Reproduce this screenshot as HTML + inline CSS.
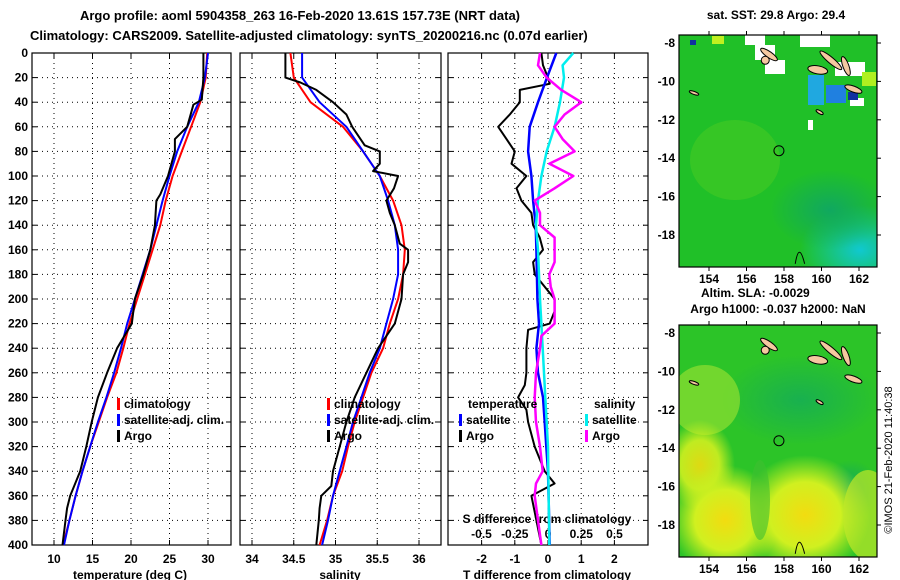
<!DOCTYPE html>
<html><head><meta charset="utf-8"><style>
body{margin:0;background:#fff;}
svg{display:block;font-family:"Liberation Sans",sans-serif;font-weight:bold;}
</style></head><body>
<svg id="c" width="900" height="580" viewBox="0 0 900 580" xmlns="http://www.w3.org/2000/svg">
<defs>
<clipPath id="m1"><rect x="679" y="35" width="198" height="232"/></clipPath>
<clipPath id="m2"><rect x="679" y="325" width="198" height="232"/></clipPath>
<radialGradient id="y1" cx="0.5" cy="0.5" r="0.5"><stop offset="0" stop-color="#f2dc10"/><stop offset="0.55" stop-color="#d0f020"/><stop offset="1" stop-color="#c8f020" stop-opacity="0"/></radialGradient>
<radialGradient id="b1" cx="0.5" cy="0.5" r="0.5"><stop offset="0" stop-color="#10c8d0"/><stop offset="1" stop-color="#10c8d0" stop-opacity="0"/></radialGradient>
<radialGradient id="g1" cx="0.5" cy="0.5" r="0.5"><stop offset="0" stop-color="#10a860"/><stop offset="1" stop-color="#10a860" stop-opacity="0"/></radialGradient>
</defs>
<text x="300" y="20" font-size="13" text-anchor="middle">Argo profile: aoml 5904358_263 16-Feb-2020 13.61S 157.73E (NRT data)</text>
<text x="30" y="40" font-size="13">Climatology: CARS2009. Satellite-adjusted climatology: synTS_20200216.nc (0.07d earlier)</text>
<g id="plots"></g>

<g>
<text x="776" y="19" font-size="12" text-anchor="middle">sat. SST: 29.8 Argo: 29.4</text>
<g clip-path="url(#m1)">
<rect x="679" y="35" width="198" height="232" fill="#20c028"/>
<ellipse cx="735" cy="160" rx="45" ry="40" fill="#60d020" opacity="0.35"/>
<ellipse cx="860" cy="250" rx="60" ry="45" fill="url(#b1)"/>
<ellipse cx="830" cy="210" rx="60" ry="40" fill="url(#g1)"/>
<rect x="745" y="35" width="20" height="10" fill="#fff"/>
<rect x="755" y="45" width="20" height="15" fill="#fff"/>
<rect x="765" y="60" width="20" height="14" fill="#fff"/>
<rect x="800" y="35" width="30" height="12" fill="#fff"/>
<rect x="835" y="62" width="30" height="14" fill="#fff"/>
<rect x="850" y="98" width="14" height="8" fill="#fff"/>
<rect x="808" y="120" width="5" height="10" fill="#fff"/>
<rect x="808" y="75" width="16" height="30" fill="#20a8e0"/>
<rect x="826" y="85" width="20" height="18" fill="#2080e0"/>
<rect x="848" y="92" width="10" height="8" fill="#1030a0"/>
<rect x="862" y="72" width="14" height="14" fill="#b0f020"/>
<rect x="690" y="40" width="6" height="5" fill="#1030a0"/>
<rect x="712" y="36" width="12" height="8" fill="#c0f020"/>
</g>
<rect x="679" y="35" width="198" height="232" fill="none" stroke="#000" stroke-width="1.2"/>
</g>
<text x="701" y="297" font-size="12">Altim. SLA: -0.0029</text>
<text x="778" y="313" font-size="12" text-anchor="middle">Argo h1000: -0.037 h2000: NaN</text>
<g>
<g clip-path="url(#m2)">
<rect x="679" y="325" width="198" height="232" fill="#2cc428"/>
<ellipse cx="800" cy="400" rx="80" ry="45" fill="url(#g1)" opacity="0.7"/>
<ellipse cx="850" cy="490" rx="30" ry="30" fill="url(#g1)"/>
<ellipse cx="705" cy="400" rx="35" ry="35" fill="#90e030" opacity="0.7"/>
<ellipse cx="700" cy="465" rx="35" ry="45" fill="url(#y1)" opacity="0.9"/>
<ellipse cx="725" cy="520" rx="55" ry="55" fill="url(#y1)"/>
<ellipse cx="805" cy="515" rx="65" ry="60" fill="url(#y1)"/>
<ellipse cx="868" cy="515" rx="25" ry="45" fill="#c0e828" opacity="0.7"/>
<ellipse cx="760" cy="500" rx="10" ry="40" fill="#40c030" opacity="0.6"/>
</g>
<rect x="679" y="325" width="198" height="232" fill="none" stroke="#000" stroke-width="1.2"/>
</g>
<text transform="translate(892,460) rotate(-90)" font-size="11" font-weight="normal" text-anchor="middle">©IMOS 21-Feb-2020 11:40:38</text>
<g id="maps"></g>
</svg>
<script>
var NS='http://www.w3.org/2000/svg';
var root=document.getElementById('plots');
var mroot=document.getElementById('maps');
function mk(tag,attrs,parent){var e=document.createElementNS(NS,tag);for(var k in attrs)e.setAttribute(k,attrs[k]);(parent||root).appendChild(e);return e;}

var depthsT=[0,20,40,60,80,100,120,140,160,180,200,220,240,260,280,300,320,340,360,380,400];
var tempClim=[29.9,29.7,29.0,27.8,26.6,25.4,24.5,23.8,22.8,21.8,20.8,19.8,19.0,18.1,16.9,15.8,14.7,13.7,12.8,12.0,11.2];
var tempSat=[30.0,29.6,28.8,27.3,26.0,25.0,24.1,23.3,22.5,21.5,20.5,19.5,18.7,17.8,16.8,15.7,14.7,13.7,12.8,12.0,11.3];
var depthsArgoT=[0,20,38,42,60,70,80,100,115,120,140,160,180,200,220,240,260,280,300,320,340,360,370,380,400];
var tempArgo=[29.4,29.4,29.2,28.1,27.3,25.7,25.7,24.8,23.8,23.3,23.1,22.5,21.6,20.5,20.1,18.2,16.9,15.7,14.9,14.2,13.4,12.1,11.7,11.5,11.1];
var salClim=[34.46,34.5,34.7,35.09,35.33,35.53,35.69,35.79,35.83,35.81,35.75,35.65,35.57,35.43,35.33,35.23,35.15,35.08,34.97,34.9,34.81];
var salSat=[34.6,34.6,34.81,35.13,35.33,35.53,35.63,35.71,35.75,35.75,35.69,35.61,35.53,35.41,35.31,35.21,35.13,35.05,34.97,34.91,34.84];
var depthsArgoS=[0,20,24,30,40,50,60,75,80,90,96,100,110,120,130,140,155,160,170,180,200,220,240,260,280,300,320,340,352,360,370,380,400];
var salArgo=[34.4,34.4,34.58,34.77,34.97,35.13,35.2,35.35,35.53,35.53,35.45,35.75,35.7,35.61,35.65,35.71,35.77,35.87,35.87,35.81,35.79,35.71,35.51,35.37,35.23,35.13,35.05,34.97,34.95,34.83,34.81,34.8,34.77];
var depthsTdSat=[0,20,40,60,80,100,120,140,160,200,220,240,260,280,300,320,340,400];
var tdSat=[0.25,-0.03,-0.3,-0.55,-0.6,-0.5,-0.45,-0.37,-0.35,-0.32,-0.27,-0.35,-0.3,-0.15,-0.1,-0.05,0,0.05];
var depthsTdArgo=[0,10,20,25,30,40,50,60,70,80,90,100,110,120,130,140,150,160,170,180,200,210,220,225,240,260,270,280,290,300,320,340,350,360,380,400];
var tdArgo=[-0.2,-0.15,0,0.05,-0.85,-0.85,-1.15,-1.5,-1.25,-1.0,-1.1,-0.65,-0.95,-0.8,-0.5,-0.45,-0.25,-0.15,-0.45,-0.4,0.2,0.2,0.05,-0.6,-0.65,-0.65,-0.7,-0.9,-0.65,-0.6,-0.4,-0.1,0.2,-0.5,-0.35,-0.2];
var depthsSdSat=[0,10,20,40,60,80,100,120,140,160,200,240,280,320,400];
var sdSat=[0.19,0.11,0.12,0.09,0.05,-0.01,-0.05,-0.075,-0.09,-0.075,-0.06,-0.04,-0.02,0,0.01];
var depthsSdArgo=[0,10,20,30,40,50,60,70,80,90,100,110,120,130,140,150,160,170,180,190,200,220,230,240,260,280,300,320,340,350,360,380,400];
var sdArgo=[-0.06,-0.075,-0.01,0.1,0.25,0.125,0.05,0.11,0.2,0.01,0.19,0.05,-0.1,-0.06,-0.06,0.05,0.05,0.05,0.01,0.02,0.05,0.05,-0.05,-0.06,-0.09,-0.1,-0.09,-0.06,-0.04,-0.09,-0.1,-0.075,-0.05];
var depthTicks=[0,20,40,60,80,100,120,140,160,180,200,220,240,260,280,300,320,340,360,380,400];
var tempTicks=[10,15,20,25,30];
var salTicks=[34,34.5,35,35.5,36];
var tdTicks=[-2,-1,0,1,2];
var sdTicks=[-0.5,-0.25,0,0.25,0.5];
var sdTickLabels=['-0.5','-0.25','0','0.25','0.5'];
var lonTicks=[154,156,158,160,162];
var latTicks=[-8,-10,-12,-14,-16,-18];
var argoLon=157.73, argoLat=-13.61;

var Y0=53,Y1=545;
function yD(d){return Y0+d*(Y1-Y0)/400;}
function xT(t){return 54+(t-10)*7.7;}
function xS(s){return 252+(s-34)*83.5;}
function xTd(v){return 548+v*33.2;}
function xSd(v){return 548+v*133;}
function mx(lon){return 709+(lon-154)*18.75;}
function myTop(lat){return 43+(-8-lat)*19.2;}
function myBot(lat){return 333+(-8-lat)*19.2;}

var panels=[
 {x0:32,x1:231,name:'temperature-panel',ticks:tempTicks,fx:xT,labels:tempTicks.map(String),title:'temperature (deg C)',tx:130},
 {x0:240,x1:441,name:'salinity-panel',ticks:salTicks,fx:xS,labels:salTicks.map(String),title:'salinity',tx:340},
 {x0:448,x1:648,name:'difference-panel',ticks:tdTicks,fx:xTd,labels:tdTicks.map(String),title:'T difference from climatology',tx:547}
];
panels.forEach(function(p,pi){
  var g=mk('g',{});
  
  
  depthTicks.forEach(function(d){
    if(d>0&&d<400){var l=mk('line',{x1:p.x0,x2:p.x1,y1:yD(d),y2:yD(d),stroke:'#000','stroke-width':1,'stroke-dasharray':'1,4'},g);
    
    mk('line',{x1:p.x0,x2:p.x0+5,y1:yD(d),y2:yD(d),stroke:'#000'},g);mk('line',{x1:p.x1-5,x2:p.x1,y1:yD(d),y2:yD(d),stroke:'#000'},g);}
  });
  p.ticks.forEach(function(t,i){
    var x=p.fx(t);
    var l=mk('line',{x1:x,x2:x,y1:Y0,y2:Y1,stroke:'#000','stroke-width':1,'stroke-dasharray':'1,4'},g);
    
    mk('line',{x1:x,x2:x,y1:Y1-5,y2:Y1,stroke:'#000'},g);mk('line',{x1:x,x2:x,y1:Y0,y2:Y0+5,stroke:'#000'},g);
    var tx=mk('text',{x:x,y:563,'font-size':12,'text-anchor':'middle'},g);tx.textContent=p.labels[i];
    
  });
  var fr=mk('rect',{x:p.x0,y:Y0,width:p.x1-p.x0,height:Y1-Y0,fill:'none',stroke:'#000','stroke-width':1.2},g);
  
  var tt=mk('text',{x:p.tx,y:579,'font-size':12,'text-anchor':'middle'},g);tt.textContent=p.title;
  
});
depthTicks.forEach(function(d){
  var t=mk('text',{x:28,y:yD(d)+4,'font-size':12,'text-anchor':'end'});t.textContent=String(d);
  
});
sdTicks.forEach(function(v,i){
  var t=mk('text',{x:xSd(v),y:538,'font-size':12,'text-anchor':'middle'});t.textContent=sdTickLabels[i];
  
});
var sdt=mk('text',{x:547,y:523,'font-size':12,'text-anchor':'middle'});sdt.textContent='S difference from climatology';


function line(depths,vals,fx,color,w,name){
  var pts=depths.map(function(d,i){return fx(vals[i]).toFixed(1)+','+yD(d).toFixed(1);}).join(' ');
  var pl=mk('polyline',{points:pts,fill:'none',stroke:color,'stroke-width':w,'stroke-linejoin':'round'});
  
  
}
line(depthsT,tempClim,xT,'#f00',2,'temp-climatology-line');
line(depthsT,tempSat,xT,'#00f',2,'temp-satellite-line');
line(depthsArgoT,tempArgo,xT,'#000',2,'temp-argo-line');
line(depthsT,salClim,xS,'#f00',2,'sal-climatology-line');
line(depthsT,salSat,xS,'#00f',2,'sal-satellite-line');
line(depthsArgoS,salArgo,xS,'#000',2,'sal-argo-line');
line(depthsTdArgo,tdArgo,xTd,'#000',2,'tdiff-argo-line');
line(depthsTdSat,tdSat,xTd,'#00f',2.5,'tdiff-satellite-line');
line(depthsSdSat,sdSat,xSd,'#0ee',2.5,'sdiff-satellite-line');
line(depthsSdArgo,sdArgo,xSd,'#f0f',2.5,'sdiff-argo-line');

function leg(x,y,color,label,name){
  var g=mk('g',{});
  
  
  if(color){mk('rect',{x:x,y:y-10,width:3,height:12,fill:color},g);}
  var t=mk('text',{x:x+7,y:y,'font-size':12},g);t.textContent=label;
}
leg(117,408,'#f00','climatology','legend-temp-climatology');
leg(117,424,'#00f','satellite-adj. clim.','legend-temp-satellite');
leg(117,440,'#000','Argo','legend-temp-argo');
leg(327,408,'#f00','climatology','legend-sal-climatology');
leg(327,424,'#00f','satellite-adj. clim.','legend-sal-satellite');
leg(327,440,'#000','Argo','legend-sal-argo');
leg(461,408,null,'temperature','legend-temperature-header');
leg(459,424,'#00f','satellite','legend-tdiff-satellite');
leg(459,440,'#000','Argo','legend-tdiff-argo');
leg(587,408,null,'salinity','legend-salinity-header');
leg(585,424,'#0ee','satellite','legend-sdiff-satellite');
leg(585,440,'#f0f','Argo','legend-sdiff-argo');

[['top',myTop,283],['bot',myBot,573]].forEach(function(m){
  var fy=m[1];
  lonTicks.forEach(function(lon){
    var t=mk('text',{x:mx(lon),y:m[2],'font-size':12,'text-anchor':'middle'},mroot);t.textContent=String(lon);
    
    var ytop=m[0]==='top'?35:325;
    mk('line',{x1:mx(lon),x2:mx(lon),y1:ytop-4,y2:ytop,stroke:'#000'},mroot);
    mk('line',{x1:mx(lon),x2:mx(lon),y1:ytop+232,y2:ytop+236,stroke:'#000'},mroot);
  });
  latTicks.forEach(function(lat){
    var t=mk('text',{x:675,y:fy(lat)+4,'font-size':12,'text-anchor':'end'},mroot);t.textContent=String(lat);
    
    mk('line',{x1:877,x2:881,y1:fy(lat),y2:fy(lat),stroke:'#000'},mroot);
  });
  var c=mk('circle',{cx:mx(argoLon),cy:fy(argoLat),r:5,fill:'none',stroke:'#000','stroke-width':1},mroot);
  
  var isl=[[157.2,-8.6,10,3,35],[160.5,-8.9,14,3,40],[159.8,-9.4,10,4,10],[161.3,-9.2,3,10,-20],[161.7,-10.4,9,3,20],[153.2,-10.6,5,1.5,20],[157.0,-8.9,4,4,0],[159.9,-11.6,4,1.5,30]];
  isl.forEach(function(s){
    var e=mk('ellipse',{cx:mx(s[0]),cy:fy(s[1]),rx:s[2],ry:s[3],fill:'#f5c8a0',stroke:'#000','stroke-width':1,transform:'rotate('+s[4]+' '+mx(s[0])+' '+fy(s[1])+')'},mroot);
    
  });
  mk('path',{d:'M'+(mx(158.6))+' '+fy(-19.5)+' Q'+mx(158.8)+' '+fy(-18.3)+' '+mx(159.1)+' '+fy(-19.5),fill:'none',stroke:'#000'},mroot);
});
</script>
</body></html>
